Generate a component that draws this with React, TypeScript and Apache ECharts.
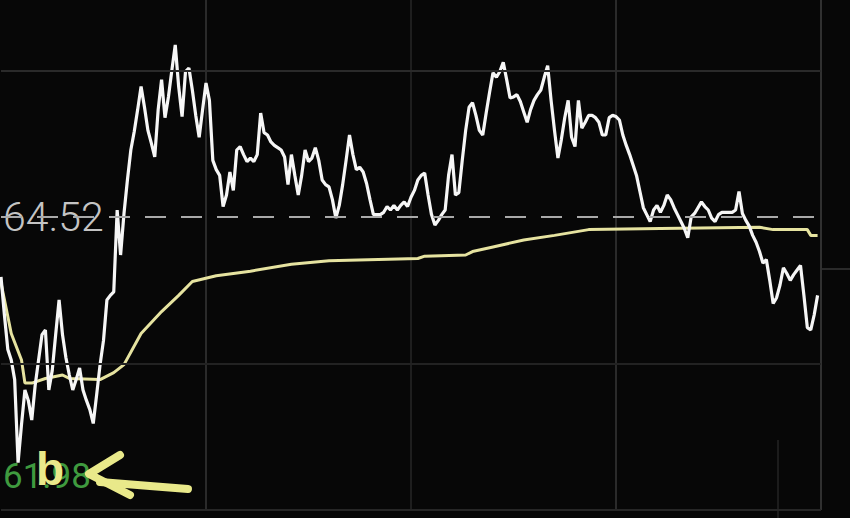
import React, { useEffect, useRef } from 'react';
import * as echarts from 'echarts';

const prevClose = 64.52;
const lowLabel = 61.98;
const priceMin = 61.98;
const priceMax = 66.4;
const gridStep = 1.27;
const upperGrid = 65.79;
const lowerGrid = 63.25;

// minute-by-minute last price (09:30 = index 0)
const prices = [
  64.0, 63.67, 63.37, 63.28, 63.11, 62.39, 62.72, 63.02, 62.93, 62.76,
  63.06, 63.28, 63.5, 63.54, 63.02, 63.19, 63.5, 63.8, 63.5, 63.3,
  63.15, 63.02, 63.11, 63.21, 63.02, 62.93, 62.85, 62.73, 62.98, 63.24,
  63.45, 63.8, 63.84, 63.87, 64.58, 64.19, 64.55, 64.84, 65.1, 65.26,
  65.45, 65.65, 65.47, 65.27, 65.16, 65.04, 65.45, 65.71, 65.38, 65.56,
  65.79, 66.01, 65.65, 65.39, 65.78, 65.81, 65.62, 65.4, 65.21, 65.45,
  65.68, 65.53, 65.01, 64.93, 64.88, 64.61, 64.71, 64.91, 64.75, 65.1,
  65.13, 65.06, 65.0, 65.03, 65.0, 65.06, 65.42, 65.25, 65.23, 65.17,
  65.14, 65.12, 65.1, 65.04, 64.8, 65.06, 64.88, 64.71, 64.88, 65.1,
  65.0, 65.03, 65.12, 65.01, 64.84, 64.8, 64.78, 64.67, 64.51, 64.62,
  64.8, 65.01, 65.23, 65.06, 64.93, 64.95, 64.91, 64.81, 64.67, 64.54,
  64.54, 64.54, 64.56, 64.61, 64.58, 64.62, 64.58, 64.62, 64.65, 64.61,
  64.69, 64.75, 64.84, 64.88, 64.9, 64.71, 64.54, 64.45, 64.49, 64.54,
  64.58, 64.88, 65.06, 64.71, 64.73, 65.01, 65.27, 65.47, 65.51, 65.4,
  65.27, 65.23, 65.42, 65.6, 65.77, 65.73, 65.78, 65.86, 65.71, 65.55,
  65.56, 65.58, 65.52, 65.43, 65.34, 65.45, 65.53, 65.58, 65.62, 65.73,
  65.83, 65.53, 65.27, 65.03, 65.19, 65.38, 65.53, 65.21, 65.13, 65.53,
  65.29, 65.34, 65.4, 65.4, 65.38, 65.34, 65.23, 65.23, 65.38, 65.4,
  65.39, 65.36, 65.23, 65.14, 65.06, 64.97, 64.88, 64.74, 64.6, 64.54,
  64.48, 64.58, 64.62, 64.56, 64.62, 64.71, 64.67, 64.6, 64.54, 64.48,
  64.42, 64.34, 64.52, 64.55, 64.6, 64.65, 64.61, 64.58, 64.51, 64.48,
  64.54, 64.56, 64.56, 64.56, 64.56, 64.58, 64.74, 64.55, 64.49, 64.44,
  64.36, 64.3, 64.22, 64.12, 64.15, 63.97, 63.77, 63.82, 63.93, 64.08,
  64.03, 63.97, 64.02, 64.06, 64.1, 63.84, 63.56, 63.54, 63.67, 63.84,
];

// average price line, read at its turning points
const avgMinutes = [0, 3, 6, 7, 9, 13, 18, 20, 29, 33, 36, 41, 47, 52, 56, 63, 73, 85, 96, 122, 124, 136, 138, 144, 153, 162, 172, 193, 222, 226, 236, 237, 239];
const avgPrices = [63.95, 63.51, 63.28, 63.08, 63.08, 63.12, 63.15, 63.12, 63.11, 63.17, 63.24, 63.51, 63.7, 63.84, 63.96, 64.01, 64.05, 64.11, 64.14, 64.16, 64.18, 64.19, 64.22, 64.26, 64.32, 64.36, 64.41, 64.42, 64.43, 64.41, 64.41, 64.36, 64.36];

function buildTimes(): string[] {
  const out: string[] = [];
  const pad = (n: number) => (n < 10 ? '0' + n : '' + n);
  for (let t = 9 * 60 + 30; t <= 11 * 60 + 30; t++) out.push(pad(Math.floor(t / 60)) + ':' + pad(t % 60));
  for (let t = 13 * 60 + 1; t <= 15 * 60; t++) out.push(pad(Math.floor(t / 60)) + ':' + pad(t % 60));
  return out;
}
const times = buildTimes();

export default function App() {
  const ref = useRef<HTMLDivElement>(null);
  useEffect(() => {
    if (!ref.current) return;
    const chart = echarts.init(ref.current, null, { renderer: 'svg' });
    const gridColor = '#2a2a2a';
    const yellow = '#e9e98a';
    chart.setOption({
      animation: false,
      backgroundColor: '#070707',
      grid: { left: 0, right: 29, top: 0, bottom: 8, show: false },
      xAxis: {
        type: 'category',
        data: times,
        boundaryGap: false,
        axisLine: { show: false },
        axisTick: { show: false },
        axisLabel: { show: false },
        splitLine: {
          show: true,
          interval: (i: number) => i > 0 && i % 60 === 0,
          lineStyle: { color: [gridColor, '#1e1e1e', gridColor, '#303030'], width: 2 },
        },
      },
      yAxis: [
        {
          type: 'value',
          min: priceMin,
          max: priceMax,
          interval: gridStep,
          splitLine: { show: false },
          axisLine: { show: false },
          axisTick: { show: false },
          axisLabel: {
            inside: true,
            margin: 2,
            color: '#c4c4c4',
            fontSize: 41,
            fontFamily: 'Roboto',
            fontWeight: 300,
            verticalAlign: 'middle',
            formatter: (v: number) => (Math.abs(v - prevClose) < 0.005 ? prevClose.toFixed(2) : ''),
          },
        },
        {
          type: 'value',
          position: 'left',
          min: priceMin,
          max: priceMax,
          interval: gridStep,
          splitLine: { show: false },
          axisLine: { show: false },
          axisTick: { show: false },
          axisLabel: {
            inside: true,
            margin: 2,
            showMinLabel: true,
            verticalAlign: 'bottom',
            formatter: (v: number) => (Math.abs(v - lowLabel) < 0.005 ? '{g|' + lowLabel.toFixed(2) + '}' : ''),
            rich: {
              g: { color: '#3f9a3f', fontSize: 35, fontFamily: 'Roboto', padding: [0, 0, 16, 0] },
            },
          },
        },
      ],
      series: [
        {
          name: 'avg',
          type: 'line',
          data: avgMinutes.map((m, i) => [m, avgPrices[i]]),
          symbol: 'none',
          z: 2,
          lineStyle: { color: '#e6e3a0', width: 3 },
          markLine: {
            silent: true,
            symbol: 'none',
            label: { show: false },
            data: [
              { yAxis: upperGrid, lineStyle: { color: gridColor, width: 2, type: 'solid' } },
              { yAxis: lowerGrid, lineStyle: { color: '#222222', width: 2, type: 'solid' } },
              { yAxis: lowLabel, lineStyle: { color: '#262626', width: 2, type: 'solid' } },
              { yAxis: prevClose, lineStyle: { color: '#a9a9a9', width: 2, type: [21, 15] } },
            ],
          },
        },
        {
          name: 'price',
          type: 'line',
          data: prices,
          symbol: 'none',
          z: 3,
          lineStyle: { color: '#f6f6f6', width: 3.2 },
        },
      ],
      graphic: [
        { type: 'line', shape: { x1: 821, y1: 269, x2: 850, y2: 269 }, style: { stroke: gridColor, lineWidth: 2 } },
        { type: 'line', shape: { x1: 778, y1: 440, x2: 778, y2: 518 }, style: { stroke: '#1c1c1c', lineWidth: 2 } },
        {
          type: 'text',
          left: 36,
          top: 446,
          z: 10,
          style: { text: 'b', fill: yellow, font: 'bold 46px "Liberation Sans"' },
        },
        {
          type: 'polyline',
          z: 10,
          shape: { points: [[120, 455], [89, 474], [130, 495]] },
          style: { stroke: yellow, lineWidth: 8, lineCap: 'round', lineJoin: 'round', fill: 'none' },
        },
        {
          type: 'polyline',
          z: 10,
          shape: { points: [[100, 482], [150, 486], [188, 489]] },
          style: { stroke: yellow, lineWidth: 8, lineCap: 'round', lineJoin: 'round', fill: 'none' },
        },
      ],
    });
    return () => chart.dispose();
  }, []);
  return (
    <div
      ref={ref}
      style={{ position: 'fixed', left: 0, top: 0, width: 850, height: 518, background: '#070707' }}
    />
  );
}
